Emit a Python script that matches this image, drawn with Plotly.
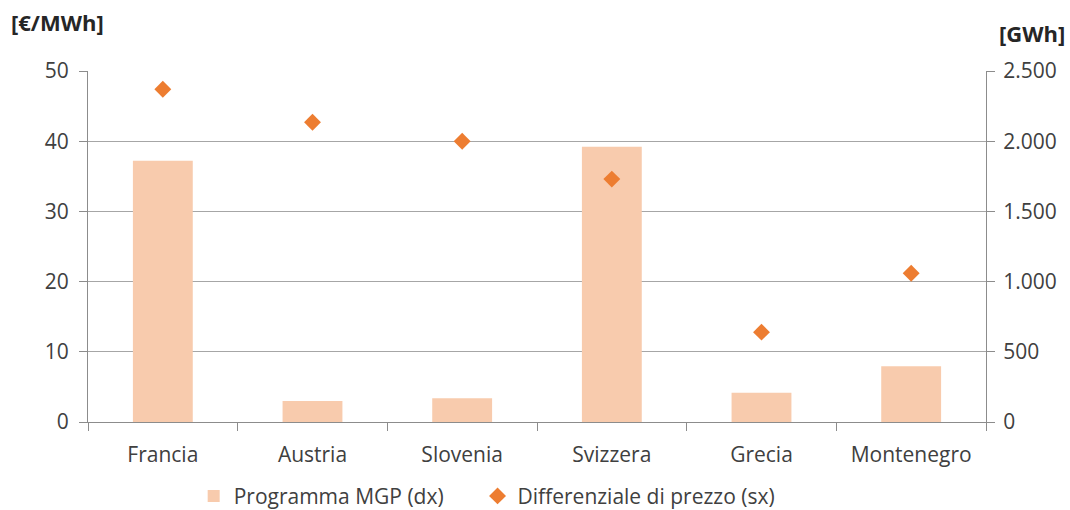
import plotly.graph_objects as go

# Interconnessioni: programma MGP e differenziale di prezzo
paesi = ["Francia", "Austria", "Slovenia", "Svizzera", "Grecia", "Montenegro"]
programma_mgp_gwh = [1860, 150, 170, 1960, 208, 397]
differenziale_eur_mwh = [47.4, 42.7, 40.0, 34.6, 12.8, 21.2]

left_ticks = [0, 10, 20, 30, 40, 50]
right_ticks = [0, 500, 1000, 1500, 2000, 2500]

FONT = "Open Sans"
TEXT = "#404040"
AXIS = "#8c8c8c"
GRID = "#a6a6a6"
FS = 21

fig = go.Figure()

fig.add_trace(go.Bar(
    x=paesi, y=programma_mgp_gwh, name="Programma MGP (dx)",
    marker=dict(color="#F8CBAD", line=dict(width=0)),
    width=0.4, yaxis="y", legend="legend",
))

fig.add_trace(go.Scatter(
    x=paesi, y=differenziale_eur_mwh, name="Differenziale di prezzo (sx)",
    mode="markers", marker=dict(symbol="diamond", size=13, color="#ED7D31"),
    yaxis="y2", legend="legend2",
))

legend_common = dict(orientation="h", xref="container", xanchor="left",
                     yref="paper", y=-0.27, yanchor="bottom",
                     font=dict(size=FS, color=TEXT), itemwidth=30)

fig.update_layout(
    width=1070, height=510,
    margin=dict(l=88, r=84, t=71, b=88, autoexpand=False),
    paper_bgcolor="white", plot_bgcolor="white",
    font=dict(family=FONT, size=FS, color=TEXT),
    separators=",.",
    showlegend=True,
    legend=dict(x=0.181, **legend_common),
    legend2=dict(x=0.4463, **legend_common),
    xaxis=dict(
        type="category", showline=True, linecolor=AXIS, linewidth=1,
        ticks="outside", tickson="boundaries", ticklen=8, tickcolor=AXIS,
        showgrid=False, tickfont=dict(size=FS, color=TEXT), ticklabelstandoff=14,
    ),
    yaxis=dict(
        side="right", range=[0, 2500], tickvals=right_ticks,
        separatethousands=True, tickformat=",d",
        showline=True, linecolor=AXIS, linewidth=1,
        ticks="outside", ticklen=8, tickcolor=AXIS,
        showgrid=True, gridcolor=GRID, gridwidth=1, zeroline=False,
        tickfont=dict(size=FS, color=TEXT), ticklabelstandoff=4,
    ),
    yaxis2=dict(
        side="left", overlaying="y", range=[0, 50], tickvals=left_ticks,
        showline=True, linecolor=AXIS, linewidth=1,
        ticks="outside", ticklen=8, tickcolor=AXIS,
        showgrid=False, zeroline=False,
        tickfont=dict(size=FS, color=TEXT), ticklabelstandoff=6,
    ),
    annotations=[
        dict(text="<b>[€/MWh]</b>", xref="paper", yref="paper", x=-0.088, y=1.0,
             xanchor="left", yanchor="bottom", yshift=32, showarrow=False,
             font=dict(size=22, color="#262626")),
        dict(text="<b>[GWh]</b>", xref="paper", yref="paper", x=1.0, y=1.0,
             xanchor="left", yanchor="bottom", xshift=11, yshift=21, showarrow=False,
             font=dict(size=22, color="#262626")),
    ],
)

fig.write_html("out.html")
